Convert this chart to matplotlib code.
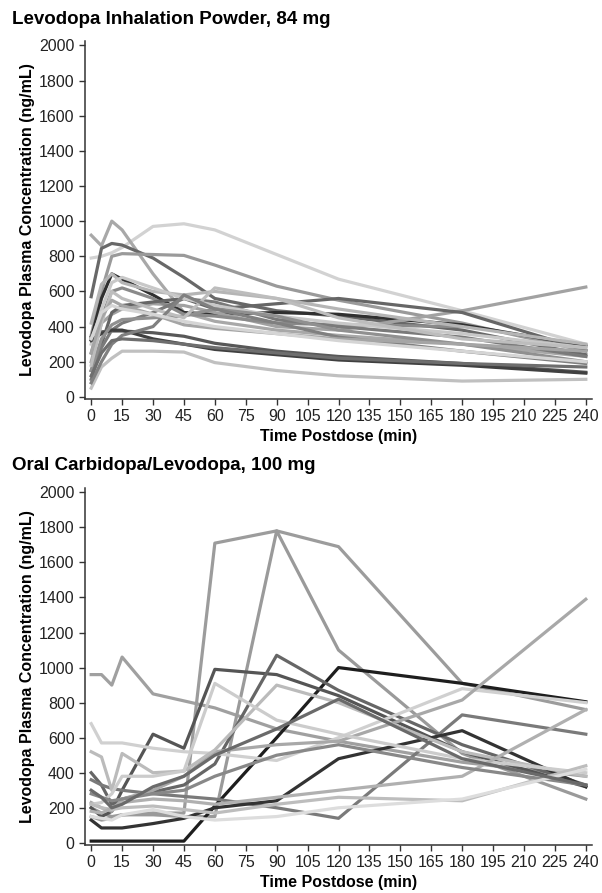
import numpy as np
import matplotlib
matplotlib.use('Agg')
import matplotlib.pyplot as plt

plt.rcParams['font.family'] = ['Liberation Sans', 'DejaVu Sans']

# sampling times (min)
times = [0, 5, 10, 15, 30, 45, 60, 90, 120, 180, 240]
x_ticks = list(range(0, 241, 15))
y_ticks = list(range(0, 2001, 200))

title_top = 'Levodopa Inhalation Powder, 84 mg'
title_bottom = 'Oral Carbidopa/Levodopa, 100 mg'
x_label = 'Time Postdose (min)'
y_label = 'Levodopa Plasma Concentration (ng/mL)'

# inhaled levodopa, one row per subject (ng/mL); nan = no sample
inhaled_conc = [
    [790, 800, 820, 850, 970, 985, 950, 810, 670, 490, 300],
    [920, 860, 1000, 950, 700, 480, 430, 380, 350, 300, 230],
    [570, 845, 873, 864, 790, 680, 560, 490, 460, 380, 240],
    [350, 600, 800, 815, 810, 805, 750, 630, 550, 420, 260],
    [330, 560, 700, 670, 580, 480, 470, 480, 470, 410, 290],
    [340, 370, 375, 375, 365, 345, 305, 260, 230, 190, 140],
    [50, 170, 220, 260, 260, 255, 195, 150, 120, 90, 100],
    [200, 420, 470, 500, 530, 520, 480, 400, 380, 490, 625],
    [250, 450, 600, 620, 560, 470, 460, 420, 410, 400, np.nan],
    [150, 300, 480, 520, 540, 560, 500, 530, 560, 480, 265],
    [420, 640, 700, 650, 600, 580, 600, 560, 500, 400, 300],
    [100, 280, 380, 420, 480, 560, 540, 440, 400, 340, 230],
    [300, 500, 650, 680, 620, 560, 520, 460, 420, 360, 280],
    [320, 360, 380, 380, 330, 300, 270, 240, 210, 180, 135],
    [150, 330, 410, 440, 450, 460, 500, 460, 380, 300, 200],
    [180, 420, 600, 560, 500, 450, 620, 560, 450, 330, 280],
    [80, 200, 300, 350, 400, 580, 500, 420, 340, 260, 190],
    [250, 450, 550, 520, 470, 410, 390, 360, 330, 300, 260],
    [330, 480, 520, 500, 470, 430, 400, 360, 320, 260, 200],
    [120, 250, 320, 330, 320, 300, 280, 250, 220, 190, 170],
]
inhaled_grey = ['#d2d2d2', '#a8a8a8', '#686868', '#9a9a9a', '#303030',
                '#585858', '#c0c0c0', '#a2a2a2', '#8a8a8a', '#666666',
                '#b5b5b5', '#7a7a7a', '#c8c8c8', '#404040', '#909090',
                '#bdbdbd', '#808080', '#a5a5a5', '#d5d5d5', '#6e6e6e']

# oral carbidopa/levodopa, one row per subject (ng/mL)
oral_conc = [
    [960, 960, 900, 1060, 850, 810, 770, 650, 580, 460, 380],
    [150, 130, 140, 160, 170, 170, 1710, 1780, 1690, 910, 760],
    [200, 170, 150, 160, 160, 150, 150, 1780, 1100, 510, 250],
    [10, 10, 10, 10, 10, 10, 210, 600, 1000, 910, 805],
    [200, 150, 180, 300, 620, 540, 990, 960, 840, 520, 320],
    [400, 330, 220, 250, 290, 330, 450, 1070, 870, 560, 330],
    [360, 330, 310, 300, 280, 265, 250, 200, 140, 730, 620],
    [130, 85, 85, 85, 110, 140, 200, 240, 480, 640, 320],
    [680, 570, 570, 570, 540, 520, 510, 470, 600, 880, 800],
    [230, 200, 180, 250, 300, 380, 520, 560, 580, 815, 1390],
    [520, 490, 300, 510, 400, 410, 530, 900, 800, 520, 380],
    [220, 230, 280, 380, 380, 410, 910, 700, 620, 480, 400],
    [220, 200, 190, 200, 210, 190, 170, 220, 260, 240, 440],
    [180, 170, 200, 230, 250, 240, 220, 260, 300, 380, 760],
    [280, 260, 240, 250, 280, 300, 380, 500, 560, 430, 330],
    [150, 140, 130, 160, 190, 150, 130, 150, 200, 250, 420],
    [300, 260, 200, 220, 320, 380, 500, 650, 820, 480, 330],
]
oral_grey = ['#a0a0a0', '#9c9c9c', '#9a9a9a', '#1e1e1e', '#555555',
             '#666666', '#7a7a7a', '#333333', '#d0d0d0', '#a8a8a8',
             '#bbbbbb', '#cccccc', '#bdbdbd', '#b0b0b0', '#888888',
             '#dddddd', '#6a6a6a']


def draw_panel(ax, conc, greys):
    for row, col in zip(conc, greys):
        ax.plot(times, row, color=col, lw=2.3)
    ax.set_xlim(-3, 243)
    ax.set_ylim(-12, 2025)
    ax.set_xticks(x_ticks)
    ax.set_yticks(y_ticks)
    for side in ['top', 'right']:
        ax.spines[side].set_visible(False)
    for side in ['left', 'bottom']:
        ax.spines[side].set_color('#333333')
        ax.spines[side].set_linewidth(1.1)
    ax.tick_params(direction='out', length=4.5, width=1.0, color='#333333',
                   labelsize=11.5, pad=3, labelcolor='#222222')
    ax.set_xlabel(x_label, fontsize=11.5, fontweight='bold', labelpad=3)
    ax.set_ylabel(y_label, fontsize=11.5, fontweight='bold', labelpad=3)


fig = plt.figure(figsize=(6.02, 8.93), dpi=100)
ax1 = fig.add_axes([0.1412, 0.5532, 0.8422, 0.4009])
ax2 = fig.add_axes([0.1412, 0.0538, 0.8422, 0.3998])

draw_panel(ax1, inhaled_conc, inhaled_grey)
draw_panel(ax2, oral_conc, oral_grey)

fig.text(12 / 602, 1 - 20 / 893, title_top, fontsize=13.5, fontweight='bold',
         ha='left', va='center')
fig.text(12 / 602, 1 - 466 / 893, title_bottom, fontsize=13.5, fontweight='bold',
         ha='left', va='center')

plt.savefig('out.png', dpi=100, facecolor='white')
plt.close()
